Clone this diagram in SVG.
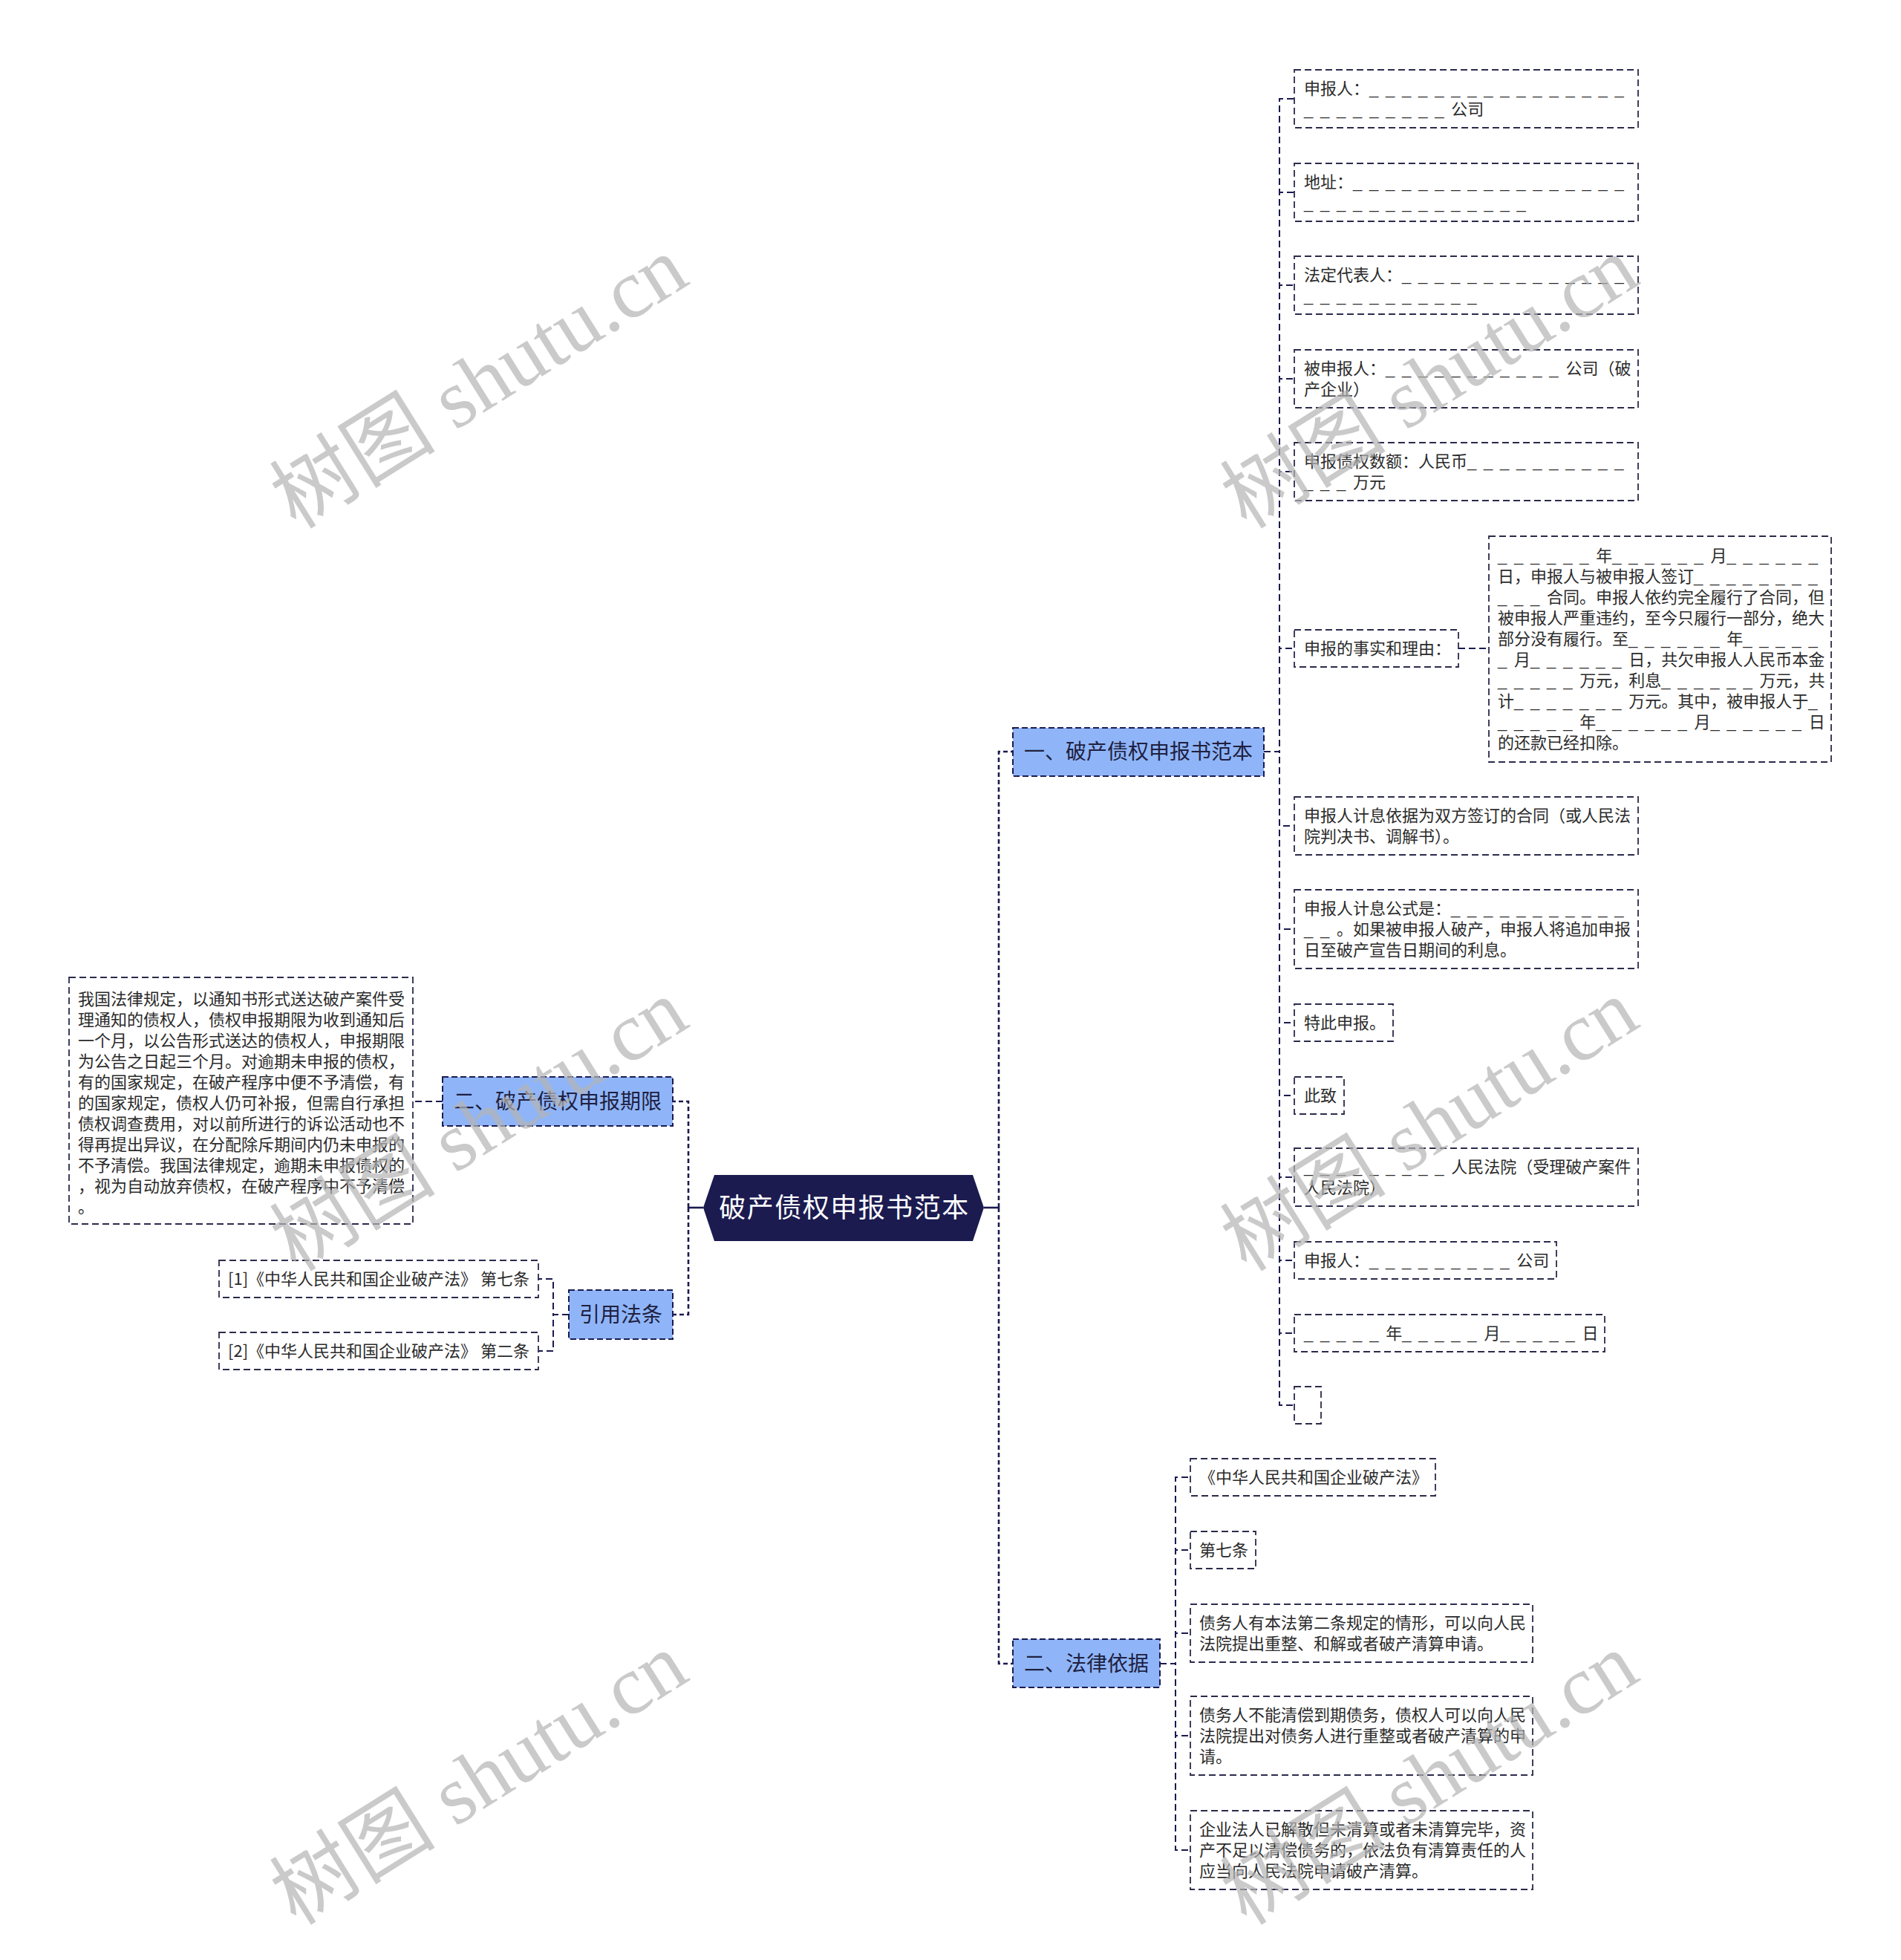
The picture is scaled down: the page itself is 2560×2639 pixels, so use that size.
<svg xmlns="http://www.w3.org/2000/svg" width="2560" height="2639" viewBox="0 0 2560 2639">
<style>
.bg{fill:#ffffff}
.root{fill:#1b1b50}
.rt{font-family:"Noto Sans CJK SC","Noto Sans",sans-serif;font-size:36px;fill:#ffffff;letter-spacing:1.5px}
.l1 rect{fill:#8fb5f8;stroke:#1b1b50;stroke-width:2;stroke-dasharray:8 4}
.l1 text{font-family:"Noto Sans CJK SC","Noto Sans",sans-serif;font-size:28px;fill:#20203f;text-anchor:middle}
.l2 rect{fill:#ffffff;stroke:#2b2b4b;stroke-width:1.8;stroke-dasharray:9 5}
.l2 text{font-family:"Noto Sans CJK SC","Noto Sans",sans-serif;font-size:22px;fill:#2b2b2b}
.u{font-family:"Liberation Sans",sans-serif;letter-spacing:9.8px}
.c1{fill:none;stroke:#1b1b50;stroke-width:2.6;stroke-dasharray:6 4}
.c2{fill:none;stroke:#1b1b50;stroke-width:2;stroke-dasharray:9 5}
.cs{fill:none;stroke:#1b1b50;stroke-width:2.6}
.wm{font-family:"Liberation Serif","Noto Sans CJK SC",serif;font-size:112px;fill:#b4b4b4;opacity:0.7;text-anchor:middle;dominant-baseline:central}
</style>
<rect class="bg" x="0" y="0" width="2560" height="2639"/>

<g id="connectors">
  <path class="cs" d="M947 1626H927"/>
  <path class="cs" d="M1325 1626H1345"/>
  <path class="c1" d="M927 1626V1483H906"/>
  <path class="c1" d="M927 1626V1770H906"/>
  <path class="c1" d="M1345 1626V1012H1364"/>
  <path class="c1" d="M1345 1626V2240H1364"/>
  <path class="c2" d="M596 1483H556"/>
  <path class="c2" d="M766 1770H745V1722H725"/>
  <path class="c2" d="M766 1770H745V1819H725"/>
  <path class="c2" d="M1702 1012H1723V133H1743"/>
  <path class="c2" d="M1702 1012H1723V259H1743"/>
  <path class="c2" d="M1702 1012H1723V384H1743"/>
  <path class="c2" d="M1702 1012H1723V510H1743"/>
  <path class="c2" d="M1702 1012H1723V635H1743"/>
  <path class="c2" d="M1702 1012H1723V873H1743"/>
  <path class="c2" d="M1964 873H2005"/>
  <path class="c2" d="M1702 1012H1723V1112H1743"/>
  <path class="c2" d="M1702 1012H1723V1251H1743"/>
  <path class="c2" d="M1702 1012H1723V1377H1743"/>
  <path class="c2" d="M1702 1012H1723V1475H1743"/>
  <path class="c2" d="M1702 1012H1723V1585H1743"/>
  <path class="c2" d="M1702 1012H1723V1697H1743"/>
  <path class="c2" d="M1702 1012H1723V1795H1743"/>
  <path class="c2" d="M1702 1012H1723V1892H1743"/>
  <path class="c2" d="M1562 2240H1583V1989H1603"/>
  <path class="c2" d="M1562 2240H1583V2087H1603"/>
  <path class="c2" d="M1562 2240H1583V2199H1603"/>
  <path class="c2" d="M1562 2240H1583V2337H1603"/>
  <path class="c2" d="M1562 2240H1583V2491H1603"/>
</g>

<g id="root">
  <polygon class="root" points="947,1626 962,1582 1310,1582 1325,1626 1310,1671 962,1671"/>
  <text class="rt" x="1137" y="1639" text-anchor="middle">破产债权申报书范本</text>
</g>

<g id="n-yi" class="l1"><rect x="1364" y="980" width="338" height="65"/><text x="1533" y="1022">一、破产债权申报书范本</text></g>
<g id="n-fl" class="l1"><rect x="1364" y="2207" width="198" height="65"/><text x="1463" y="2250">二、法律依据</text></g>
<g id="n-qx" class="l1"><rect x="596" y="1450" width="310" height="66"/><text x="751" y="1493">二、破产债权申报期限</text></g>
<g id="n-yy" class="l1"><rect x="766" y="1737" width="140" height="66"/><text x="836" y="1780">引用法条</text></g>

<g id="n-qx-1" class="l2"><rect x="93" y="1316" width="463" height="332"/>
<text x="105" y="1353">我国法律规定，以通知书形式送达破产案件受</text>
<text x="105" y="1381">理通知的债权人，债权申报期限为收到通知后</text>
<text x="105" y="1409">一个月，以公告形式送达的债权人，申报期限</text>
<text x="105" y="1437">为公告之日起三个月。对逾期未申报的债权，</text>
<text x="105" y="1465">有的国家规定，在破产程序中便不予清偿，有</text>
<text x="105" y="1493">的国家规定，债权人仍可补报，但需自行承担</text>
<text x="105" y="1521">债权调查费用，对以前所进行的诉讼活动也不</text>
<text x="105" y="1549">得再提出异议，在分配除斥期间内仍未申报的</text>
<text x="105" y="1577">不予清偿。我国法律规定，逾期未申报债权的</text>
<text x="105" y="1605">，视为自动放弃债权，在破产程序中不予清偿</text>
<text x="105" y="1633">。</text>
</g>

<g id="n-yy-1" class="l2"><rect x="295" y="1697" width="430" height="50"/><text x="307" y="1730">[1]《中华人民共和国企业破产法》 第七条</text></g>
<g id="n-yy-2" class="l2"><rect x="295" y="1794" width="430" height="50"/><text x="307" y="1827">[2]《中华人民共和国企业破产法》 第二条</text></g>

<g id="n-yi-1" class="l2"><rect x="1743" y="94" width="463" height="78"/>
<text x="1756" y="127">申报人：<tspan class="u">________________</tspan></text>
<text x="1756" y="155"><tspan class="u">_________</tspan>公司</text></g>
<g id="n-yi-2" class="l2"><rect x="1743" y="220" width="463" height="78"/>
<text x="1756" y="253">地址：<tspan class="u">_________________</tspan></text>
<text x="1756" y="281"><tspan class="u">______________</tspan></text></g>
<g id="n-yi-3" class="l2"><rect x="1743" y="345" width="463" height="78"/>
<text x="1756" y="378">法定代表人：<tspan class="u">______________</tspan></text>
<text x="1756" y="406"><tspan class="u">___________</tspan></text></g>
<g id="n-yi-4" class="l2"><rect x="1743" y="471" width="463" height="78"/>
<text x="1756" y="504">被申报人：<tspan class="u">___________</tspan>公司（破</text>
<text x="1756" y="532">产企业）</text></g>
<g id="n-yi-5" class="l2"><rect x="1743" y="596" width="463" height="78"/>
<text x="1756" y="629">申报债权数额：人民币<tspan class="u">__________</tspan></text>
<text x="1756" y="657"><tspan class="u">___</tspan>万元</text></g>
<g id="n-yi-6" class="l2"><rect x="1743" y="848" width="221" height="50"/>
<text x="1756" y="881">申报的事实和理由：</text></g>
<g id="n-yi-6-1" class="l2"><rect x="2005" y="722" width="461" height="304"/>
<text x="2017" y="756"><tspan class="u">______</tspan>年<tspan class="u">______</tspan>月<tspan class="u">______</tspan></text>
<text x="2017" y="784">日，申报人与被申报人签订<tspan class="u">________</tspan></text>
<text x="2017" y="812"><tspan class="u">___</tspan>合同。申报人依约完全履行了合同，但</text>
<text x="2017" y="840">被申报人严重违约，至今只履行一部分，绝大</text>
<text x="2017" y="868">部分没有履行。至<tspan class="u">______</tspan>年<tspan class="u">_____</tspan></text>
<text x="2017" y="896"><tspan class="u">_</tspan>月<tspan class="u">______</tspan>日，共欠申报人人民币本金</text>
<text x="2017" y="924"><tspan class="u">_____</tspan>万元，利息<tspan class="u">______</tspan>万元，共</text>
<text x="2017" y="952">计<tspan class="u">_______</tspan>万元。其中，被申报人于<tspan class="u">_</tspan></text>
<text x="2017" y="980"><tspan class="u">_____</tspan>年<tspan class="u">______</tspan>月<tspan class="u">______</tspan>日</text>
<text x="2017" y="1008">的还款已经扣除。</text></g>
<g id="n-yi-7" class="l2"><rect x="1743" y="1073" width="463" height="78"/>
<text x="1756" y="1106">申报人计息依据为双方签订的合同（或人民法</text>
<text x="1756" y="1134">院判决书、调解书）。</text></g>
<g id="n-yi-8" class="l2"><rect x="1743" y="1198" width="463" height="106"/>
<text x="1756" y="1231">申报人计息公式是：<tspan class="u">___________</tspan></text>
<text x="1756" y="1259"><tspan class="u">__</tspan>。如果被申报人破产，申报人将追加申报</text>
<text x="1756" y="1287">日至破产宣告日期间的利息。</text></g>
<g id="n-yi-9" class="l2"><rect x="1743" y="1352" width="133" height="50"/>
<text x="1756" y="1385">特此申报。</text></g>
<g id="n-yi-10" class="l2"><rect x="1743" y="1450" width="67" height="50"/>
<text x="1756" y="1483">此致</text></g>
<g id="n-yi-11" class="l2"><rect x="1743" y="1546" width="463" height="78"/>
<text x="1756" y="1579"><tspan class="u">_________</tspan>人民法院（受理破产案件</text>
<text x="1756" y="1607">人民法院）</text></g>
<g id="n-yi-12" class="l2"><rect x="1743" y="1672" width="353" height="50"/>
<text x="1756" y="1705">申报人：<tspan class="u">_________</tspan>公司</text></g>
<g id="n-yi-13" class="l2"><rect x="1743" y="1770" width="418" height="50"/>
<text x="1756" y="1803"><tspan class="u">_____</tspan>年<tspan class="u">_____</tspan>月<tspan class="u">_____</tspan>日</text></g>
<g id="n-yi-14" class="l2"><rect x="1743" y="1867" width="36" height="50"/></g>

<g id="n-fl-1" class="l2"><rect x="1603" y="1964" width="330" height="50"/>
<text x="1615" y="1997">《中华人民共和国企业破产法》</text></g>
<g id="n-fl-2" class="l2"><rect x="1603" y="2062" width="88" height="50"/>
<text x="1615" y="2095">第七条</text></g>
<g id="n-fl-3" class="l2"><rect x="1603" y="2160" width="461" height="78"/>
<text x="1615" y="2193">债务人有本法第二条规定的情形，可以向人民</text>
<text x="1615" y="2221">法院提出重整、和解或者破产清算申请。</text></g>
<g id="n-fl-4" class="l2"><rect x="1603" y="2284" width="461" height="106"/>
<text x="1615" y="2317">债务人不能清偿到期债务，债权人可以向人民</text>
<text x="1615" y="2345">法院提出对债务人进行重整或者破产清算的申</text>
<text x="1615" y="2373">请。</text></g>
<g id="n-fl-5" class="l2"><rect x="1603" y="2438" width="461" height="106"/>
<text x="1615" y="2471">企业法人已解散但未清算或者未清算完毕，资</text>
<text x="1615" y="2499">产不足以清偿债务的，依法负有清算责任的人</text>
<text x="1615" y="2527">应当向人民法院申请破产清算。</text></g>

<g id="watermark">
  <text class="wm" transform="translate(645,515) rotate(-32)">树图 shutu.cn</text>
  <text class="wm" transform="translate(1925,515) rotate(-32)">树图 shutu.cn</text>
  <text class="wm" transform="translate(645,1515) rotate(-32)">树图 shutu.cn</text>
  <text class="wm" transform="translate(1925,1515) rotate(-32)">树图 shutu.cn</text>
  <text class="wm" transform="translate(645,2395) rotate(-32)">树图 shutu.cn</text>
  <text class="wm" transform="translate(1925,2395) rotate(-32)">树图 shutu.cn</text>
</g>
</svg>
